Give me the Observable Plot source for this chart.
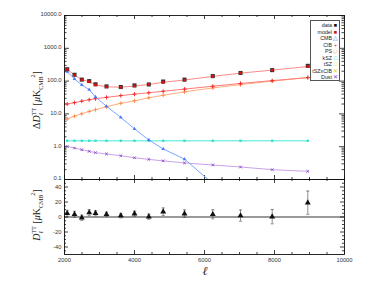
<!DOCTYPE html>
<html><head><meta charset="utf-8">
<script src="https://cdn.jsdelivr.net/npm/d3@7"></script>
<script src="https://cdn.jsdelivr.net/npm/@observablehq/plot@0.6"></script>
<style>
body{margin:0;background:#fff;}
#chart{position:relative;width:374px;height:299px;overflow:hidden;background:#fff;font-family:"Liberation Sans",Arial,sans-serif;}
#chart svg{position:absolute;left:0;overflow:visible;}
#legend{position:absolute;left:310px;top:20px;width:30px;height:61px;border:1px solid #555;background:#fff;box-sizing:border-box;padding-top:1px;font-family:"Liberation Sans",Arial,sans-serif;font-size:5.3px;color:#222;}
#legend div{display:flex;justify-content:flex-end;align-items:center;height:6.5px;line-height:6.5px;padding-right:1px;}
#legend span.s{display:inline-block;width:5px;text-align:center;margin-left:1px;font-size:5.5px;}
</style>
</head><body>
<div id="chart"></div>
<script>
// ---- data ----
const ell      = [2077, 2286, 2494, 2706, 2886, 3200, 3609, 4000, 4409, 4820, 5429, 6237, 7029, 7934, 8951];
const dataVals = [230, 156, 111, 100, 80, 69, 66, 74, 79, 97, 111, 142, 177, 216, 292];
const modelVals= [225, 152, 110, 96, 77, 67, 65, 71, 79, 92, 108, 139, 175, 216, 278];
const cmbVals  = [194, 116, 76, 55, 33, 17, 7.8, 3.5, 1.6, 0.85, 0.42, 0.075, 0.015, 0.003, 0.0006];
const cibVals  = [20, 22, 24.5, 27, 29, 32, 36, 40, 44, 49, 57, 70, 85, 103, 128];
const psVals   = [7.0, 8.5, 10.1, 11.9, 13.5, 16.6, 21, 25, 31, 37, 47, 62, 78, 100, 128];
const kszVals  = [1.52, 1.52, 1.52, 1.52, 1.52, 1.52, 1.52, 1.52, 1.52, 1.52, 1.52, 1.52, 1.52, 1.52, 1.52];
const dustVals = [1.02, 0.91, 0.81, 0.72, 0.66, 0.6, 0.53, 0.46, 0.41, 0.37, 0.32, 0.277, 0.24, 0.20, 0.177];
const residVals= [4.9, 3.6, -1, 5.8, 5, 3.6, 1.8, 4.4, 0.4, 7.1, 4.4, 3.6, 1.8, 0.4, 19.1];
const errVals  = [4, 4, 3.5, 4, 3.5, 3, 3, 3.5, 3.5, 5, 5, 6, 7.5, 9.5, 15.5];

const xTicks = [2000, 4000, 6000, 8000, 10000];
const xTickLabels = ["2000", "4000", "6000", "8000", "10000"];
const xMinorTicks = [2500,3000,3500,4500,5000,5500,6500,7000,7500,8500,9000,9500];
const yTopTicks = [0.1, 1, 10, 100, 1000, 10000];
const yTopLabels = ["0.1", "1.0", "10.0", "100.0", "1000.0", "10000.0"];
const yTopMinor = [0.1,1,10,100,1000].flatMap(d => [2,3,4,5,6,7,8,9].map(k => k*d));
const yBotTicks = [-40, -20, 0, 20, 40];
const yBotLabels = ["-40", "-20", "0", "20", "40"];
const yBotMinor = [-45,-35,-30,-25,-15,-10,-5,5,10,15,25,30,35,45];

const legendNames = ["data","model","CMB","CIB","PS","kSZ","tSZ","tSZxCIB","Dust"];
const legendSymbols = ["■","■","△","+","◇","□","□","✕","✕"];
const legendColors = ["#111","#e01010","#3366ff","#ff2020","#ff8844","#22ddcc","#dddd00","#eecc22","#8844cc"];

const rows = ell.map((l, i) => ({
  ell: l, data: dataVals[i], model: modelVals[i], cmb: cmbVals[i], cib: cibVals[i],
  ps: psVals[i], ksz: kszVals[i], dust: dustVals[i], res: residVals[i], err: errVals[i]
}));

// ---- layout ----
const W = 374, ML = 64, MR = 30;
const innerW = W - ML - MR;
const topH = 180, topMT = 15, topMB = 1, topInner = topH - topMT - topMB;
const botH = 120, botMT = 0, botMB = 45, botInner = botH - botMT - botMB;
const font = "'Liberation Sans', Arial, sans-serif";

function edgeX(values, len, inner) {
  return [
    Plot.tickX(values, {x: d => d, insetBottom: inner - len, stroke: "#111", strokeWidth: 0.8}),
    Plot.tickX(values, {x: d => d, insetTop: inner - len, stroke: "#111", strokeWidth: 0.8})
  ];
}
function edgeY(values, len) {
  return [
    Plot.tickY(values, {y: d => d, insetRight: innerW - len, stroke: "#111", strokeWidth: 0.8}),
    Plot.tickY(values, {y: d => d, insetLeft: innerW - len, stroke: "#111", strokeWidth: 0.8})
  ];
}

const topPlot = Plot.plot({
  width: W, height: topH, marginTop: topMT, marginBottom: topMB, marginLeft: ML, marginRight: MR,
  x: {domain: [2000, 10000], axis: null},
  y: {type: "log", domain: [0.1, 10000]},
  style: {fontFamily: font, fontSize: "5.8px", background: "transparent", color: "#333", overflow: "visible"},
  marks: [
    ...edgeX(xTicks, 4, topInner),
    ...edgeX(xMinorTicks, 2, topInner),
    ...edgeY(yTopTicks, 5),
    ...edgeY(yTopMinor, 2.5),
    Plot.axisY({ticks: yTopTicks, tickSize: 0, tickPadding: 3, label: null, dy: -1,
      tickFormat: d => yTopLabels[yTopTicks.indexOf(d)]}),
    // dust
    Plot.line(rows, {x: "ell", y: "dust", stroke: "#c9a3ea", strokeWidth: 1}),
    Plot.dot(rows, {x: "ell", y: "dust", symbol: "times", stroke: "#8a44c8", r: 1.3, strokeWidth: 0.9}),
    // kSZ
    Plot.line(rows, {x: "ell", y: "ksz", stroke: "#7ff2e4", strokeWidth: 1.4}),
    Plot.dot(rows, {x: "ell", y: "ksz", symbol: "square", fill: "#33ddcc", r: 1.3}),
    // PS
    Plot.line(rows, {x: "ell", y: "ps", stroke: "#ffae80", strokeWidth: 1}),
    Plot.dot(rows, {x: "ell", y: "ps", symbol: "plus", stroke: "#ff8844", r: 1.4, strokeWidth: 0.9}),
    // CIB
    Plot.line(rows, {x: "ell", y: "cib", stroke: "#ff7a7a", strokeWidth: 1}),
    Plot.dot(rows, {x: "ell", y: "cib", symbol: "plus", stroke: "#ee2222", r: 1.4, strokeWidth: 0.9}),
    // CMB
    Plot.line(rows, {x: "ell", y: "cmb", stroke: "#7aa6ff", strokeWidth: 1, clip: true}),
    Plot.dot(rows, {x: "ell", y: "cmb", symbol: "triangle", fill: "#4a7cff", r: 1.4, clip: true}),
    // model + data
    Plot.line(rows, {x: "ell", y: "model", stroke: "#ff8a8a", strokeWidth: 1}),
    Plot.dot(rows, {x: "ell", y: "data", symbol: "square", fill: "#333", r: 2.3}),
    Plot.dot(rows, {x: "ell", y: "model", symbol: "square", fill: "#dd1111", r: 1.5}),
    Plot.frame({stroke: "#111", strokeWidth: 0.9})
  ]
});
topPlot.style.top = "0px";

const capSymbol = {draw(ctx, size) { const r = Math.sqrt(size / Math.PI); ctx.moveTo(-r, 0); ctx.lineTo(r, 0); }};

const botPlot = Plot.plot({
  width: W, height: botH, marginTop: botMT, marginBottom: botMB, marginLeft: ML, marginRight: MR,
  x: {domain: [2000, 10000]},
  y: {domain: [-50, 50]},
  style: {fontFamily: font, fontSize: "5.8px", background: "transparent", color: "#333", overflow: "visible"},
  marks: [
    Plot.ruleY([0], {stroke: "#9a9a9a", strokeWidth: 2}),
    ...edgeX(xTicks, 4, botInner),
    ...edgeX(xMinorTicks, 2, botInner),
    ...edgeY(yBotTicks, 4),
    ...edgeY(yBotMinor, 2),
    Plot.axisY({ticks: yBotTicks, tickSize: 0, tickPadding: 3, label: null,
      tickFormat: d => yBotLabels[yBotTicks.indexOf(d)]}),
    Plot.axisX({ticks: xTicks, tickSize: 0, tickPadding: 3, label: null,
      tickFormat: d => xTickLabels[xTicks.indexOf(d)]}),
    Plot.ruleX(rows, {x: "ell", y1: d => d.res - d.err, y2: d => d.res + d.err, stroke: "#444", strokeWidth: 0.6}),
    Plot.dot(rows, {x: "ell", y: d => d.res - d.err, symbol: capSymbol, stroke: "#444", r: 1.6, strokeWidth: 0.6}),
    Plot.dot(rows, {x: "ell", y: d => d.res + d.err, symbol: capSymbol, stroke: "#444", r: 1.6, strokeWidth: 0.6}),
    Plot.dot(rows, {x: "ell", y: "res", symbol: "triangle", fill: "#111", r: 2.2}),
    Plot.frame({stroke: "#111", strokeWidth: 0.9})
  ]
});
botPlot.style.top = (topMT + topInner) + "px";

const chart = document.getElementById("chart");
chart.appendChild(topPlot);
chart.appendChild(botPlot);

// axis titles
function yTitle(svg, cx, cy, prefix) {
  const t = d3.select(svg).append("text")
    .attr("transform", `translate(${cx},${cy}) rotate(-90)`)
    .attr("text-anchor", "middle")
    .style("font-family", "'Liberation Serif', 'DejaVu Serif', serif")
    .style("font-size", "10px").attr("fill", "#222");
  t.append("tspan").text(prefix);
  t.append("tspan").attr("font-style", "italic").text("D");
  t.append("tspan").attr("font-size", "6px").attr("dy", 2.5).attr("font-style", "italic").text("ℓ");
  t.append("tspan").attr("font-size", "6px").attr("dx", -2.5).attr("dy", -7).text("TT");
  t.append("tspan").attr("dy", 4.5).text(" [");
  t.append("tspan").attr("font-style", "italic").text("μ");
  t.append("tspan").text("K");
  t.append("tspan").attr("font-size", "6px").attr("dy", 2.5).text("CMB");
  t.append("tspan").attr("font-size", "6px").attr("dx", -1).attr("dy", -8).text("2");
  t.append("tspan").attr("dy", 5.5).text("]");
}
yTitle(topPlot, 40, 100, "Δ");
yTitle(botPlot, 40, 36, "");
d3.select(botPlot).append("text").attr("x", 205).attr("y", 96)
  .attr("text-anchor", "middle")
  .style("font-family", "'Liberation Serif', 'DejaVu Serif', serif")
  .style("font-size", "12px").style("font-style", "italic").attr("fill", "#222").text("ℓ");

// legend
const leg = document.createElement("div");
leg.id = "legend";
legendNames.forEach((n, i) => {
  const r = document.createElement("div");
  r.innerHTML = `<span>${n}</span><span class="s" style="color:${legendColors[i]}">${legendSymbols[i]}</span>`;
  leg.appendChild(r);
});
chart.appendChild(leg);
</script>
</body></html>
